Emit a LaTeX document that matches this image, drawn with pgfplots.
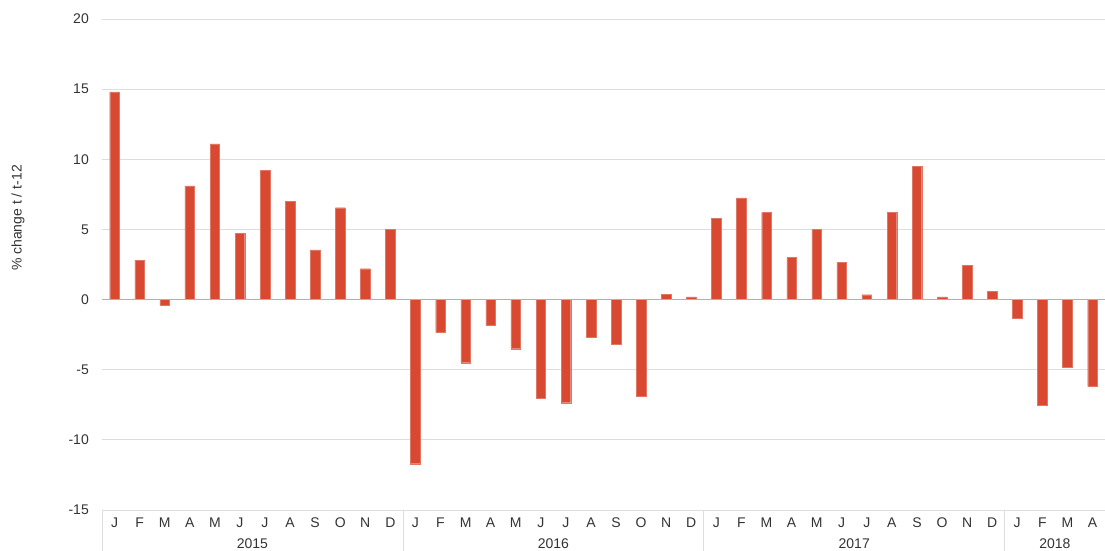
\documentclass[border=0pt]{standalone}
\usepackage{fontspec}
\setmainfont{Liberation Sans}
\usepackage{pgfplots}
\pgfplotsset{compat=1.18}
\definecolor{barred}{HTML}{D94831}
\definecolor{gridgray}{HTML}{DDDDDD}
\definecolor{zerogray}{HTML}{B0B0B0}
\definecolor{txt}{HTML}{333333}
\begin{document}
\begin{tikzpicture}
\begin{axis}[
  at={(0pt,0pt)}, anchor=south west,
  scale only axis, width=1003pt, height=491pt,
  xmin=-0.5, xmax=39.5, ymin=-15, ymax=20,
  axis line style={draw=none},
  ytick={-15,-10,-5,0,5,10,15,20},
  ymajorgrids, grid style={gridgray, line width=0.8pt},
  xtick={0,...,39},
  xticklabels={J,F,M,A,M,J,J,A,S,O,N,D,J,F,M,A,M,J,J,A,S,O,N,D,J,F,M,A,M,J,J,A,S,O,N,D,J,F,M,A},
  major tick length=0pt,
  tick label style={font=\fontsize{14}{15}\selectfont, text=txt},
  yticklabel style={anchor=east, inner sep=0pt, xshift=-13pt},
  xticklabel style={anchor=center, inner sep=0pt, yshift=-13pt},
  /pgf/number format/assume math mode=true,
  clip=false,
]
\addplot[ybar, bar width=9.6pt, fill=barred, draw=barred!75!white, line width=0.3pt] coordinates {
(0,14.8) (1,2.8) (2,-0.4) (3,8.1) (4,11.1) (5,4.7) (6,9.2) (7,7.0) (8,3.55) (9,6.55) (10,2.2) (11,5.0)
(12,-11.7) (13,-2.35) (14,-4.5) (15,-1.8) (16,-3.5) (17,-7.0) (18,-7.35) (19,-2.7) (20,-3.2) (21,-6.9) (22,0.38) (23,0.2)
(24,5.8) (25,7.25) (26,6.2) (27,3.0) (28,5.0) (29,2.65) (30,0.35) (31,6.2) (32,9.5) (33,0.2) (34,2.45) (35,0.58)
(36,-1.35) (37,-7.5) (38,-4.85) (39,-6.2)
};
\draw[zerogray, line width=0.8pt] (axis cs:-0.5,0) -- (axis cs:39.5,0);
\draw[gridgray, line width=0.8pt] (axis cs:-0.5,-15) -- (axis cs:39.5,-15);
\draw[gridgray, line width=0.8pt] (axis cs:-0.5,-15) -- ([yshift=-42pt]axis cs:-0.5,-15);
\draw[gridgray, line width=0.8pt] (axis cs:11.5,-15) -- ([yshift=-42pt]axis cs:11.5,-15);
\draw[gridgray, line width=0.8pt] (axis cs:23.5,-15) -- ([yshift=-42pt]axis cs:23.5,-15);
\draw[gridgray, line width=0.8pt] (axis cs:35.5,-15) -- ([yshift=-42pt]axis cs:35.5,-15);
\node[font=\fontsize{14}{15}\selectfont, text=txt, inner sep=0pt] at ([yshift=-34pt]axis cs:5.5,-15) {2015};
\node[font=\fontsize{14}{15}\selectfont, text=txt, inner sep=0pt] at ([yshift=-34pt]axis cs:17.5,-15) {2016};
\node[font=\fontsize{14}{15}\selectfont, text=txt, inner sep=0pt] at ([yshift=-34pt]axis cs:29.5,-15) {2017};
\node[font=\fontsize{14}{15}\selectfont, text=txt, inner sep=0pt] at ([yshift=-34pt]axis cs:37.5,-15) {2018};
\end{axis}
\node[rotate=90, font=\fontsize{14}{15}\selectfont, text=txt, inner sep=0pt] at (-84pt,292pt) {\% change t / t-12};
\pgfresetboundingbox
\path (-102pt,-40pt) rectangle (1003pt,510pt);
\end{tikzpicture}
\end{document}
